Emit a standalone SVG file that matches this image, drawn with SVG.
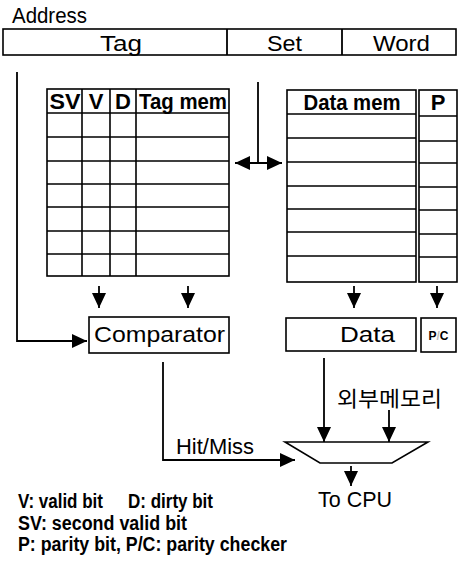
<svg xmlns="http://www.w3.org/2000/svg" width="460" height="572" viewBox="0 0 460 572">
<defs>
<style>
.ln{stroke:#000;stroke-width:1.8;fill:none}
.bx{stroke:#000;stroke-width:1.6;fill:#fff}
.tb{stroke:#000;stroke-width:1.6;fill:none}
.t{font-family:"Liberation Sans",Arial,sans-serif;font-size:22px;fill:#000}
.hb{font-family:"Liberation Sans",Arial,sans-serif;font-size:22px;font-weight:bold;fill:#000}
.lg{font-family:"Liberation Sans",Arial,sans-serif;font-size:19.5px;font-weight:bold;fill:#000}
.kr{font-family:"Liberation Sans","Noto Sans CJK KR",sans-serif;font-size:21px;fill:#000}
</style>
<marker id="ah" viewBox="0 0 15 14" markerWidth="15" markerHeight="14" markerUnits="userSpaceOnUse" refX="15" refY="7" orient="auto-start-reverse">
<path d="M0,0 L15,7 L0,14 z" fill="#000"/>
</marker>
</defs>

<text class="t" x="12" y="23" font-size="19" textLength="75" lengthAdjust="spacingAndGlyphs">Address</text>

<g id="address">
<rect class="bx" x="3" y="29" width="453" height="26"/>
<line class="ln" x1="227" y1="29" x2="227" y2="55"/>
<line class="ln" x1="342" y1="29" x2="342" y2="55"/>
<text class="t" x="100" y="51" textLength="42" lengthAdjust="spacingAndGlyphs">Tag</text>
<text class="t" x="267" y="51" textLength="35" lengthAdjust="spacingAndGlyphs">Set</text>
<text class="t" x="373" y="51" textLength="57" lengthAdjust="spacingAndGlyphs">Word</text>
</g>

<g id="tagmem">
<rect class="tb" x="47" y="89" width="182" height="187" fill="#fff"/>
<line class="tb" x1="82" y1="89" x2="82" y2="276"/>
<line class="tb" x1="110" y1="89" x2="110" y2="276"/>
<line class="tb" x1="136" y1="89" x2="136" y2="276"/>
<path class="tb" d="M47,113H229M47,137H229M47,161H229M47,184H229M47,207H229M47,231H229M47,254H229"/>
<text class="hb" x="65" y="109" text-anchor="middle" textLength="31" lengthAdjust="spacingAndGlyphs">SV</text>
<text class="hb" x="96" y="109" text-anchor="middle">V</text>
<text class="hb" x="123" y="109" text-anchor="middle">D</text>
<text class="hb" x="183" y="109" text-anchor="middle" textLength="88" lengthAdjust="spacingAndGlyphs">Tag mem</text>
</g>

<g id="datamem">
<rect class="tb" x="287" y="90" width="129" height="192" fill="#fff"/>
<path class="tb" d="M287,114H416M287,138H416M287,162H416M287,186H416M287,209H416M287,232H416M287,256H416"/>
<text class="hb" x="352" y="110" text-anchor="middle" textLength="97" lengthAdjust="spacingAndGlyphs">Data mem</text>
</g>

<g id="parity">
<rect class="tb" x="419" y="90" width="38" height="192" fill="#fff"/>
<path class="tb" d="M419,116H457M419,141H457M419,163H457M419,187H457M419,210H457M419,234H457M419,257H457"/>
<text class="hb" x="438" y="110" text-anchor="middle">P</text>
</g>

<g id="comparator">
<rect class="bx" x="89" y="317" width="140" height="36"/>
<text class="t" x="94" y="342" textLength="131" lengthAdjust="spacingAndGlyphs">Comparator</text>
</g>

<g id="data">
<rect class="bx" x="286" y="318" width="130" height="33"/>
<text class="t" x="340" y="342" textLength="55" lengthAdjust="spacingAndGlyphs">Data</text>
</g>

<g id="pc">
<rect class="bx" x="421" y="318" width="35" height="34"/>
<text x="438.5" y="340" text-anchor="middle" font-family="Liberation Sans,Arial,sans-serif" font-size="12" font-weight="bold">P<tspan fill="#bbb">/</tspan>C</text>
</g>

<g id="mux">
<polygon class="bx" points="285,442 428,442 392,463 320,463"/>
</g>

<g id="labels">
<text class="kr" x="337" y="406" textLength="105" lengthAdjust="spacingAndGlyphs">외부메모리</text>
<text class="t" x="176" y="454" textLength="78" lengthAdjust="spacingAndGlyphs">Hit/Miss</text>
<text class="t" x="318" y="507" textLength="74" lengthAdjust="spacingAndGlyphs">To CPU</text>
<text class="lg" x="18" y="508" textLength="85" lengthAdjust="spacingAndGlyphs">V: valid bit</text>
<text class="lg" x="128" y="508" textLength="85" lengthAdjust="spacingAndGlyphs">D: dirty bit</text>
<text class="lg" x="18" y="530" textLength="169" lengthAdjust="spacingAndGlyphs">SV: second valid bit</text>
<text class="lg" x="18" y="551" textLength="269" lengthAdjust="spacingAndGlyphs">P: parity bit, P/C: parity checker</text>
</g>

<g id="connectors">
<polyline class="ln" points="17,72 17,341 87,341" marker-end="url(#ah)"/>
<line class="ln" x1="258" y1="82" x2="258" y2="163"/>
<line class="ln" x1="235" y1="163" x2="282" y2="163" marker-start="url(#ah)" marker-end="url(#ah)"/>
<line class="ln" x1="99" y1="286" x2="99" y2="308" marker-end="url(#ah)"/>
<line class="ln" x1="188" y1="286" x2="188" y2="308" marker-end="url(#ah)"/>
<line class="ln" x1="354" y1="286" x2="354" y2="308" marker-end="url(#ah)"/>
<line class="ln" x1="437" y1="286" x2="437" y2="308" marker-end="url(#ah)"/>
<line class="ln" x1="324" y1="358" x2="324" y2="442" marker-end="url(#ah)"/>
<line class="ln" x1="389" y1="410" x2="389" y2="442" marker-end="url(#ah)"/>
<polyline class="ln" points="163,362 163,460 295,460" marker-end="url(#ah)"/>
<line class="ln" x1="351" y1="466" x2="351" y2="486" marker-end="url(#ah)"/>
</g>
</svg>
